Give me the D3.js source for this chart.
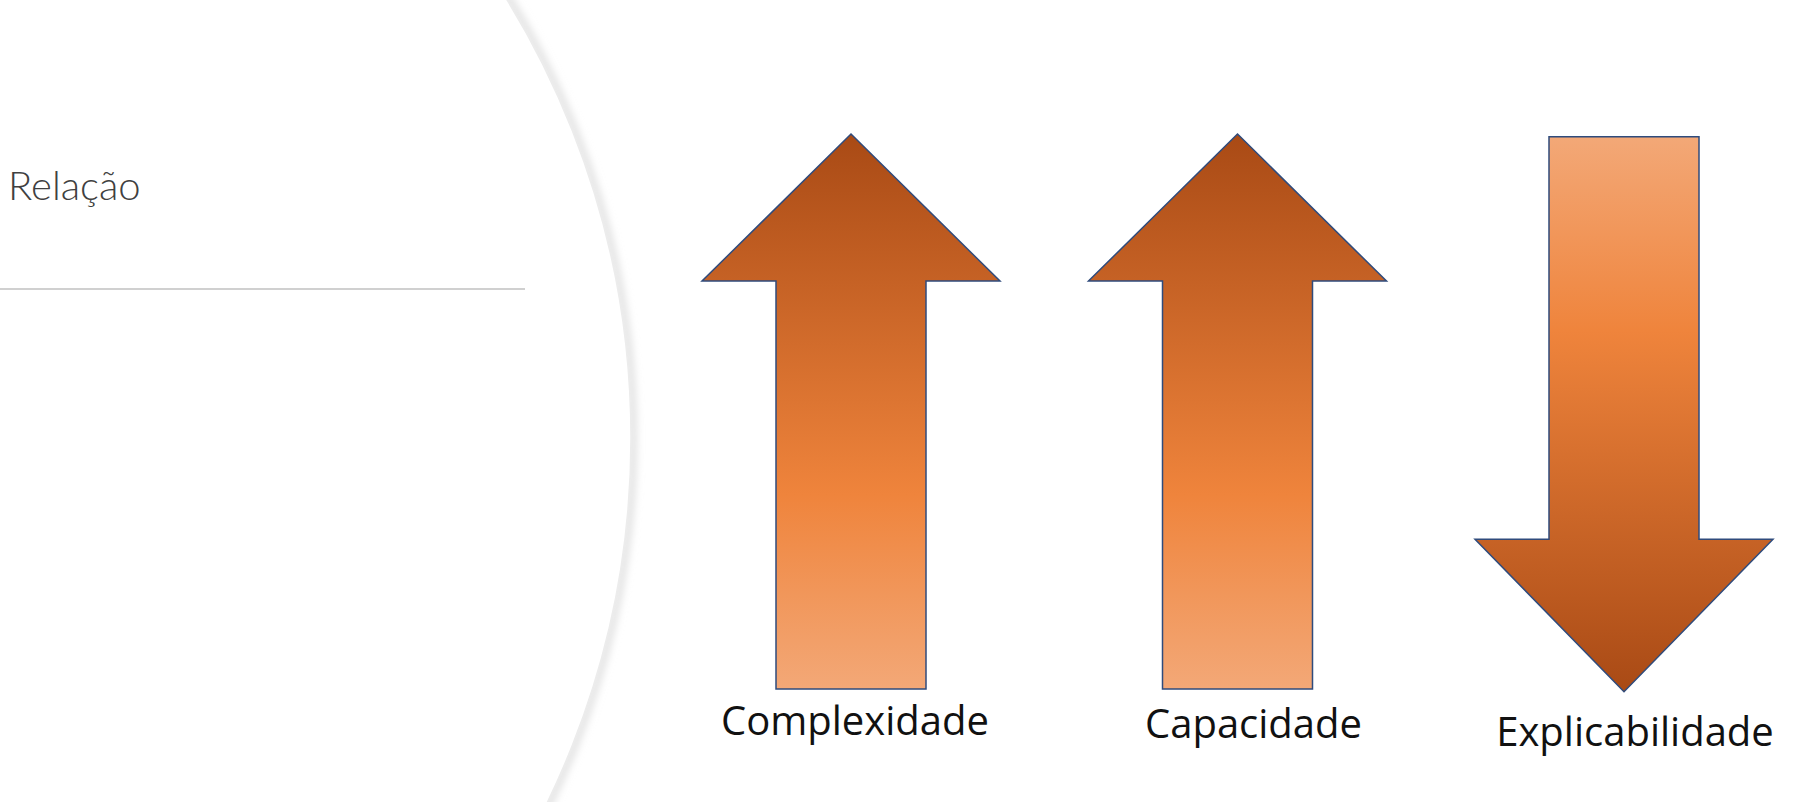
<!DOCTYPE html>
<html><head><meta charset="utf-8">
<script src="https://cdn.jsdelivr.net/npm/d3@7"></script>
<style>body{margin:0;background:#fff}</style></head>
<body><div id="container"></div>
<script>
var categories = ['Complexidade', 'Capacidade', 'Explicabilidade'];
var directions = ['up', 'up', 'down'];
var title = 'Relação';

var svg = d3.select('#container').append('svg')
    .attr('width', 1807).attr('height', 802);

var defs = svg.append('defs');
var gUp = defs.append('linearGradient').attr('id', 'gUp')
    .attr('x1', 0).attr('y1', 1).attr('x2', 0).attr('y2', 0);
var stops = [[0, '#f3a877'], [0.35, '#ef843c'], [1, '#a94a15']];
stops.forEach(function(s) { gUp.append('stop').attr('offset', s[0]).attr('stop-color', s[1]); });
var gDown = defs.append('linearGradient').attr('id', 'gDown')
    .attr('x1', 0).attr('y1', 0).attr('x2', 0).attr('y2', 1);
stops.forEach(function(s) { gDown.append('stop').attr('offset', s[0]).attr('stop-color', s[1]); });
var blur = defs.append('filter').attr('id', 'sh').attr('x', '-50%').attr('width', '200%');
blur.append('feGaussianBlur').attr('stdDeviation', 4);

// background arc
var arc = d3.arc()({innerRadius: 835, outerRadius: 835, startAngle: 0, endAngle: Math.PI});
svg.append('circle').attr('cx', -204).attr('cy', 438).attr('r', 837)
    .attr('fill', 'none').attr('stroke', '#d8d8d8').attr('stroke-width', 6).attr('filter', 'url(#sh)');
svg.append('circle').attr('cx', -204).attr('cy', 438).attr('r', 835)
    .attr('fill', '#fff').attr('stroke', '#ececec').attr('stroke-width', 1.5);

svg.append('text').attr('x', 8).attr('y', 200).text(title)
    .attr('font-family', 'Lato, "Open Sans", sans-serif').attr('font-weight', 300)
    .attr('font-size', 40).attr('fill', '#404040');
svg.append('line').attr('x1', 0).attr('x2', 525).attr('y1', 289).attr('y2', 289)
    .attr('stroke', '#d0d0d0').attr('stroke-width', 2);

var x = d3.scalePoint().domain(categories).range([851, 1624]);
var y = d3.scaleLinear().domain([0, 1]).range([134, 689]);

function arrowPath(d, i) {
    var cx = x(d), hw = 149, sw = 75, headFrac = 0.265;
    if (directions[i] === 'up') {
        var t = y(0), hb = y(headFrac), b = y(1);
        return 'M' + cx + ',' + t + 'L' + (cx + hw) + ',' + hb + 'L' + (cx + sw) + ',' + hb +
            'L' + (cx + sw) + ',' + b + 'L' + (cx - sw) + ',' + b + 'L' + (cx - sw) + ',' + hb +
            'L' + (cx - hw) + ',' + hb + 'Z';
    }
    var t2 = y(0.005), hb2 = y(0.73), b2 = y(1.005);
    return 'M' + (cx - sw) + ',' + t2 + 'L' + (cx + sw) + ',' + t2 + 'L' + (cx + sw) + ',' + hb2 +
        'L' + (cx + hw) + ',' + hb2 + 'L' + cx + ',' + b2 + 'L' + (cx - hw) + ',' + hb2 +
        'L' + (cx - sw) + ',' + hb2 + 'Z';
}

svg.selectAll('path.arrow').data(categories).enter().append('path')
    .attr('class', 'arrow').attr('d', arrowPath)
    .attr('fill', function(d, i) { return directions[i] === 'up' ? 'url(#gUp)' : 'url(#gDown)'; })
    .attr('stroke', '#2f4b7c').attr('stroke-width', 1.5);

svg.selectAll('text.lbl').data(categories).enter().append('text')
    .attr('class', 'lbl')
    .attr('x', function(d, i) { return x(d) + [4, 16, 11][i]; })
    .attr('y', function(d, i) { return [735, 738, 746][i]; })
    .attr('text-anchor', 'middle')
    .attr('font-family', '"Liberation Sans Narrow", "Open Sans", sans-serif')
    .attr('font-size', 40).attr('fill', '#111').text(function(d) { return d; });
</script></body></html>
